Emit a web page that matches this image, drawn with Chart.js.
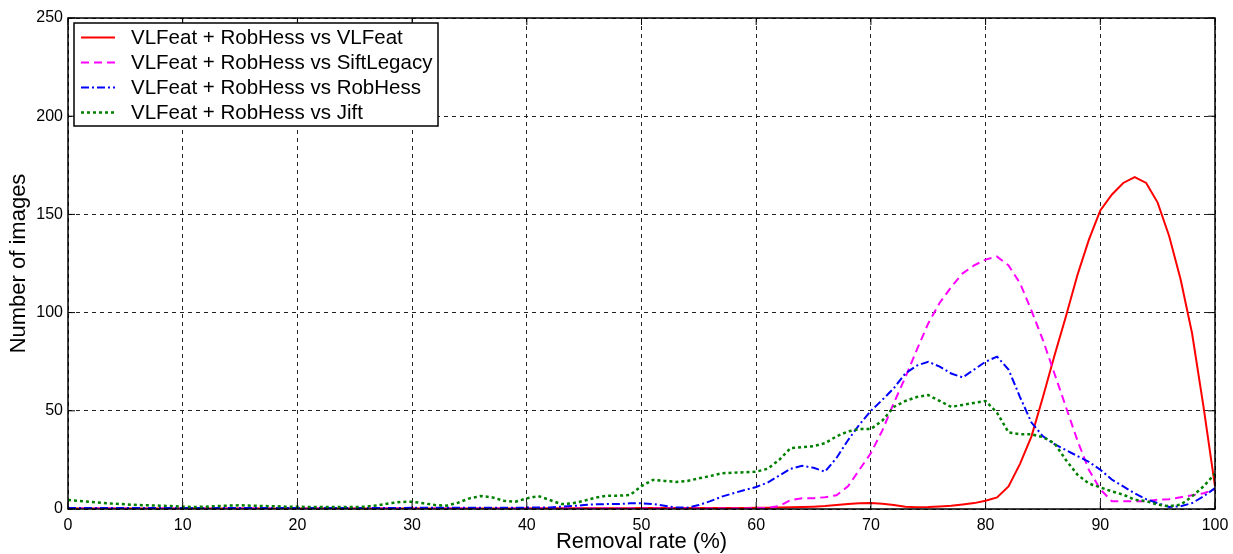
<!DOCTYPE html>
<html>
<head>
<meta charset="utf-8">
<script src="https://cdn.jsdelivr.net/npm/chart.js@4"></script>
<style>
  html, body { margin: 0; padding: 0; background: #fff; }
  canvas { display: block; }
</style>
</head>
<body>
<canvas id="myChart" width="1233" height="554"></canvas>
<script>
// removal rate (%) 0..100
var rates = [];
for (var i = 0; i <= 100; i++) rates.push(i);

var seriesNames = [
  'VLFeat + RobHess vs VLFeat',
  'VLFeat + RobHess vs SiftLegacy',
  'VLFeat + RobHess vs RobHess',
  'VLFeat + RobHess vs Jift'
];

var vlfeat = [
  0.3,0.3,0.3,0.3,0.3,0.3,0.3,0.3,0.3,0.3,
  0.3,0.3,0.3,0.3,0.3,0.3,0.3,0.3,0.3,0.3,
  0.3,0.3,0.3,0.3,0.3,0.3,0.3,0.3,0.3,0.3,
  0.3,0.3,0.3,0.3,0.3,0.3,0.3,0.3,0.3,0.3,
  0.3,0.4,0.4,0.4,0.4,0.4,0.4,0.4,0.4,0.4,
  0.5,0.5,0.5,0.5,0.5,0.5,0.5,0.5,0.5,0.5,
  0.6,0.7,0.8,0.9,1,1.2,1.5,2,2.5,2.9,
  3,2.7,2,1.2,0.9,1,1.3,1.7,2.3,3,
  4.2,5.9,11.5,23,37,57,78,98,119,137,
  152,160,166,169,166,156,139,117,89.5,52,
  11.5
];

var siftLegacy = [
  0.3,0.3,0.3,0.3,0.3,0.3,0.3,0.3,0.3,0.3,
  0.3,0.3,0.3,0.3,0.3,0.3,0.3,0.3,0.3,0.3,
  0.3,0.3,0.3,0.3,0.3,0.3,0.3,0.3,0.3,0.3,
  0.3,0.3,0.3,0.3,0.3,0.3,0.3,0.3,0.3,0.3,
  0.3,0.3,0.3,0.3,0.3,0.3,0.3,0.3,0.3,0.3,
  0.3,0.3,0.3,0.3,0.3,0.3,0.3,0.3,0.3,0.3,
  0.4,0.6,1.5,4.5,5.5,5.5,6,7,11.5,20,
  28.5,40,54,67,81,94.5,105,113,120,124,
  127,128.5,124,115,101,86,69,52,35,20,
  10,4,4,4,4,4.7,5,6,7,8,
  10
];

var robHess = [
  0.5,0.5,0.5,0.5,0.5,0.5,0.5,0.5,0.5,0.5,
  0.5,0.5,0.5,0.5,0.5,0.5,0.5,0.5,0.5,0.5,
  0.5,0.5,0.5,0.5,0.5,0.5,0.5,0.5,0.5,0.5,
  0.7,0.7,0.7,0.7,0.7,0.7,0.7,0.7,0.7,0.7,
  0.7,0.8,0.8,1.2,1.5,2,2.4,2.5,2.5,2.9,
  2.9,2.5,1.7,0.8,0.7,2,4,6.3,8,9.7,
  11.2,13.5,17,20.5,22,21,19,26,35,43,
  50,55.6,61.5,69,73,75,72.5,69,67,71,
  75,77.6,71,57,44,37,33,30,27,24,
  20,15,11.5,8,5,3,1,1.4,3,6.4,
  10.7
];

var jift = [
  4.6,4.1,3.6,3.1,2.7,2.4,2,1.9,1.7,1.5,
  1.2,1,1.2,1.5,1.7,1.9,1.7,1.5,1.4,1.2,
  1.2,1,1,1,1,1,1.2,1.9,2.9,3.6,
  3.7,2.9,2,1.7,3.2,5.4,6.6,5.9,4.2,3.7,
  5.4,6.6,4.6,2.5,2.9,4.2,5.8,6.8,6.8,7.1,
  11.7,14.8,14.3,13.8,14.3,15.6,16.8,18.2,18.5,18.7,
  19,20.5,25,31,31.5,32,33.5,37,39.5,40.7,
  40.7,45,52,55,57,58,55,52,53,54,
  55,49,39,38,38,36.6,33.5,25,17.5,13,
  11,9,7.3,4.7,4,2.2,1.4,2.2,6.4,11.5,
  18
];

var xTicks = [0, 10, 20, 30, 40, 50, 60, 70, 80, 90, 100];
var yTicks = [0, 50, 100, 150, 200, 250];

var FONT = '"Liberation Sans", Arial, Helvetica, sans-serif';

function pts(vals) {
  return vals.map(function (v, i) { return { x: rates[i], y: v }; });
}

// frame, inward tick marks and legend box (matlab style)
var matlabDecor = {
  id: 'matlabDecor',
  afterDatasetsDraw: function (chart) {
    var ctx = chart.ctx, a = chart.chartArea;
    var xs = chart.scales.x, ys = chart.scales.y;
    ctx.save();
    ctx.strokeStyle = '#000';
    ctx.lineWidth = 1.5;
    ctx.setLineDash([]);
    ctx.strokeRect(a.left, a.top, a.right - a.left, a.bottom - a.top);
    ctx.lineWidth = 1;
    ctx.beginPath();
    xTicks.forEach(function (t) {
      var px = xs.getPixelForValue(t);
      ctx.moveTo(px, a.bottom); ctx.lineTo(px, a.bottom - 7);
      ctx.moveTo(px, a.top); ctx.lineTo(px, a.top + 7);
    });
    yTicks.forEach(function (t) {
      var py = ys.getPixelForValue(t);
      ctx.moveTo(a.left, py); ctx.lineTo(a.left + 7, py);
      ctx.moveTo(a.right, py); ctx.lineTo(a.right - 7, py);
    });
    ctx.stroke();

    // legend
    var bx = a.left + 6, by = a.top + 5, bw = 364, bh = 103;
    ctx.fillStyle = '#fff';
    ctx.fillRect(bx, by, bw, bh);
    ctx.lineWidth = 1.5;
    ctx.strokeRect(bx, by, bw, bh);
    ctx.font = '20.5px ' + FONT;
    ctx.textBaseline = 'middle';
    chart.data.datasets.forEach(function (ds, k) {
      var cy = by + 14.5 + k * 25;
      ctx.strokeStyle = ds.borderColor;
      ctx.lineWidth = ds.borderWidth;
      ctx.setLineDash(ds.borderDash || []);
      ctx.beginPath();
      ctx.moveTo(bx + 7, cy); ctx.lineTo(bx + 41, cy);
      ctx.stroke();
      ctx.setLineDash([]);
      ctx.fillStyle = '#000';
      ctx.fillText(ds.label, bx + 57, cy + 1);
    });
    ctx.restore();
  }
};

var ctx = document.getElementById('myChart').getContext('2d');
var myChart = new Chart(ctx, {
  type: 'line',
  data: {
    datasets: [{
      label: seriesNames[0],
      data: pts(vlfeat),
      borderColor: 'rgb(255, 0, 0)',
      borderWidth: 2,
      order: 4
    }, {
      label: seriesNames[1],
      data: pts(siftLegacy),
      borderColor: 'rgb(255, 0, 255)',
      borderWidth: 2,
      borderDash: [8, 5],
      order: 3
    }, {
      label: seriesNames[2],
      data: pts(robHess),
      borderColor: 'rgb(0, 0, 255)',
      borderWidth: 2,
      borderDash: [8, 3, 2, 3],
      order: 2
    }, {
      label: seriesNames[3],
      data: pts(jift),
      borderColor: 'rgb(0, 128, 0)',
      borderWidth: 2.5,
      borderDash: [3, 3],
      order: 1
    }]
  },
  options: {
    responsive: false,
    animation: false,
    events: [],
    elements: { point: { radius: 0 }, line: { tension: 0, fill: false } },
    layout: { padding: { top: 18, right: 18, left: 0, bottom: 0 } },
    plugins: { legend: { display: false }, tooltip: { enabled: false } },
    scales: {
      x: {
        type: 'linear',
        min: 0, max: 100,
        afterBuildTicks: function (s) { s.ticks = xTicks.map(function (v) { return { value: v }; }); },
        afterFit: function (s) { s.height = 45; s.paddingLeft = 0; s.paddingRight = 0; },
        grid: { color: '#222', lineWidth: 1, drawTicks: false },
        border: { display: false, dash: [4, 4] },
        ticks: { color: '#000', padding: 7, maxRotation: 0, font: { family: FONT, size: 16 } },
        title: {
          display: true, text: 'Removal rate (%)', color: '#000',
          font: { family: FONT, size: 22 }, padding: { top: 0, bottom: -1 }
        }
      },
      y: {
        min: 0, max: 250,
        afterBuildTicks: function (s) { s.ticks = yTicks.map(function (v) { return { value: v }; }); },
        afterFit: function (s) { s.width = 68; s.paddingTop = 0; s.paddingBottom = 0; },
        grid: { color: '#222', lineWidth: 1, drawTicks: false },
        border: { display: false, dash: [4, 4] },
        ticks: { color: '#000', padding: 5, font: { family: FONT, size: 16 } },
        title: {
          display: true, text: 'Number of images', color: '#000',
          font: { family: FONT, size: 22 }, padding: { top: 6, bottom: 0 }
        }
      }
    }
  },
  plugins: [matlabDecor]
});
</script>
</body>
</html>
